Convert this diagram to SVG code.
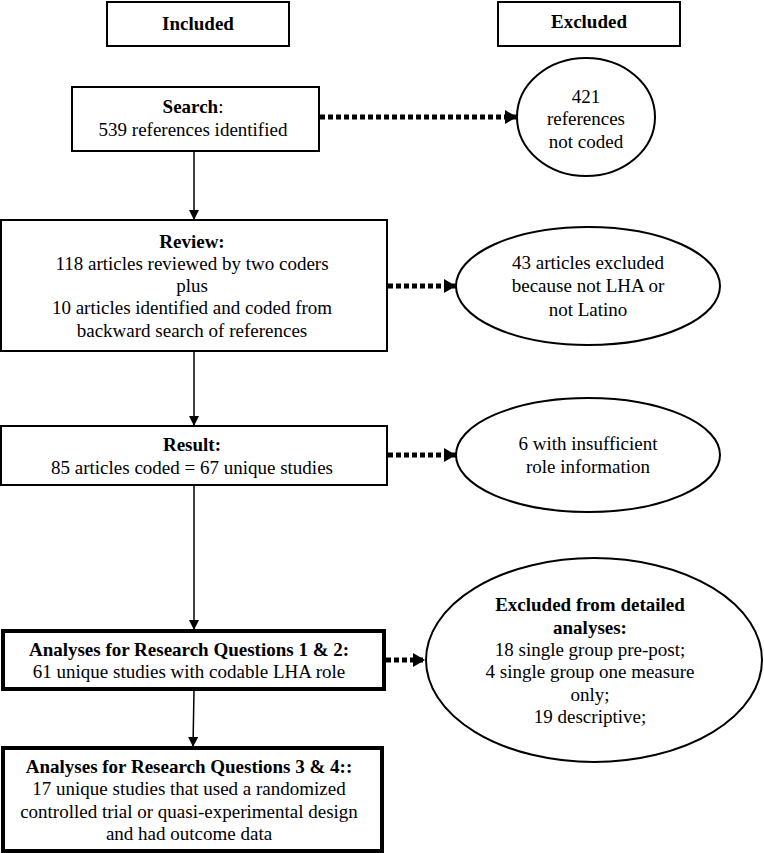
<svg xmlns="http://www.w3.org/2000/svg" width="764" height="853" viewBox="0 0 764 853">
<defs>
<marker id="ah" viewBox="0 0 10 10" refX="10" refY="5" markerWidth="10" markerHeight="10" markerUnits="userSpaceOnUse" orient="auto">
<path d="M0,0 L10,5 L0,10 Z" fill="#000"/>
</marker>
<marker id="ahd" viewBox="0 0 12 14" refX="12" refY="7" markerWidth="12" markerHeight="14" markerUnits="userSpaceOnUse" orient="auto">
<path d="M0,0 L12,7 L0,14 Z" fill="#000"/>
</marker>
</defs>
<style>
text{font-family:"Liberation Serif","Times New Roman",serif;font-size:19px;fill:#000;text-anchor:middle}
.b{font-weight:bold}
.box{fill:#fff;stroke:#000;stroke-width:2}
.tbox{fill:#fff;stroke:#000;stroke-width:4}
.ell{fill:#fff;stroke:#000;stroke-width:2}
.solid{stroke:#000;stroke-width:1.5;fill:none;marker-end:url(#ah)}
.dot{stroke:#000;stroke-width:5;stroke-dasharray:5 3;fill:none;marker-end:url(#ahd)}
</style>
<rect width="764" height="853" fill="#fff"/>
<g id="connectors">
<line class="solid" x1="194" y1="152" x2="194" y2="220"/>
<line class="solid" x1="194" y1="351" x2="194" y2="426"/>
<line class="solid" x1="194" y1="485" x2="194" y2="630"/>
<line class="solid" x1="194" y1="690" x2="193" y2="747"/>
<line class="dot" x1="320" y1="117" x2="517" y2="117"/>
<line class="dot" x1="388" y1="286" x2="456" y2="286"/>
<line class="dot" x1="388" y1="455" x2="456" y2="455"/>
<line class="dot" x1="386" y1="660" x2="425" y2="660"/>
</g>
<g id="included">
<rect class="box" x="107" y="2" width="182" height="44"/>
<text class="b" x="198" y="30">Included</text>
</g>
<g id="excluded">
<rect class="box" x="498" y="2" width="182" height="44"/>
<text class="b" x="589" y="28">Excluded</text>
</g>
<g id="search">
<rect class="box" x="72" y="87" width="247" height="64"/>
<text x="193" y="113"><tspan class="b">Search</tspan>:</text>
<text x="193" y="136">539 references identified</text>
</g>
<g id="notcoded">
<ellipse class="ell" cx="586" cy="117" rx="69" ry="59"/>
<text x="586" y="103">421</text>
<text x="586" y="125">references</text>
<text x="586" y="148">not coded</text>
</g>
<g id="review">
<rect class="box" x="1" y="220" width="386" height="131"/>
<text class="b" x="192" y="248">Review:</text>
<text x="192" y="270">118 articles reviewed by two coders</text>
<text x="192" y="292">plus</text>
<text x="192" y="314">10 articles identified and coded from</text>
<text x="192" y="337">backward search of references</text>
</g>
<g id="excl43">
<ellipse class="ell" cx="588" cy="286" rx="132" ry="59"/>
<text x="588" y="269">43 articles excluded</text>
<text x="588" y="292">because not LHA or</text>
<text x="588" y="316">not Latino</text>
</g>
<g id="result">
<rect class="box" x="1" y="426" width="386" height="59"/>
<text class="b" x="192" y="451">Result:</text>
<text x="192" y="474">85 articles coded = 67 unique studies</text>
</g>
<g id="excl6">
<ellipse class="ell" cx="588" cy="455" rx="132" ry="57"/>
<text x="588" y="450">6 with insufficient</text>
<text x="588" y="473">role information</text>
</g>
<g id="rq12">
<rect class="tbox" x="3" y="631" width="381" height="58"/>
<text class="b" x="189" y="656">Analyses for Research Questions 1 &amp; 2:</text>
<text x="189" y="678">61 unique studies with codable LHA role</text>
</g>
<g id="excldetail">
<ellipse class="ell" cx="594" cy="660" rx="168" ry="102"/>
<text class="b" x="590" y="611">Excluded from detailed</text>
<text class="b" x="590" y="634">analyses:</text>
<text x="590" y="656">18 single group pre-post;</text>
<text x="590" y="678">4 single group one measure</text>
<text x="590" y="701">only;</text>
<text x="590" y="723">19 descriptive;</text>
</g>
<g id="rq34">
<rect class="tbox" x="3" y="748" width="379" height="103"/>
<text class="b" x="189" y="773">Analyses for Research Questions 3 &amp; 4::</text>
<text x="189" y="795">17 unique studies that used a randomized</text>
<text x="189" y="818">controlled trial or quasi-experimental design</text>
<text x="189" y="840">and had outcome data</text>
</g>
</svg>
